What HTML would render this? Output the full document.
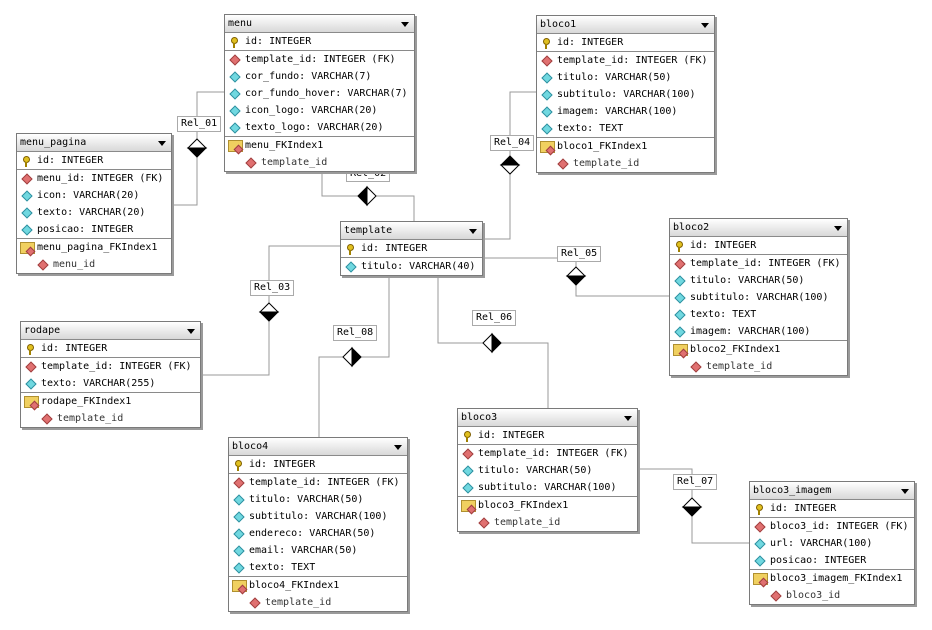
<!DOCTYPE html>
<html><head><meta charset="utf-8"><style>
body{margin:0;width:932px;height:630px;background:#fff;position:relative;overflow:hidden;font-family:"DejaVu Sans Mono","Liberation Mono",monospace}
svg{position:absolute;left:0;top:0}
.t{position:absolute;background:#fff;border:1px solid #7a7a7a;box-shadow:2px 2px 0 #9a9a9a;font-size:10px;color:#000}
.h{height:17px;line-height:17px;background:linear-gradient(#ffffff,#d8d8d8);border-bottom:1px solid #8a8a8a;padding-left:3px;position:relative}
.h:after{content:"";position:absolute;right:5px;top:7px;border-left:4px solid transparent;border-right:4px solid transparent;border-top:5px solid #000}
.r{height:17px;line-height:17px;padding-left:20px;position:relative;white-space:nowrap}
.s{border-top:1px solid #8a8a8a}
.r.i2{padding-left:36px;color:#333}
.k:before{content:"";position:absolute;left:6px;top:4px;width:5px;height:5px;border-radius:50%;background:#e0c020;border:1px solid #806000}
.k:after{content:"";position:absolute;left:8px;top:10px;width:2px;height:5px;background:#a08000}
.f:before,.a:before,.i2:before{content:"";position:absolute;left:6px;top:5px;width:6px;height:6px;transform:rotate(45deg);background:#e07070;border:1px solid #a04040}
.a:before{background:#70d8e0;border-color:#3090a0}
.i2:before{left:22px}
.x:before{content:"";position:absolute;left:3px;top:3px;width:13px;height:10px;background:#f0d060;border:1px solid #b09030}
.x:after{content:"";position:absolute;left:10px;top:9px;width:5px;height:5px;transform:rotate(45deg);background:#e07070;border:1px solid #a04040}
.l{position:absolute;background:#fff;border:1px solid #aaa;font-size:10px;height:14px;line-height:14px;padding:0 3px}
</style></head><body>
<svg width="932" height="630">
<g stroke="#999" fill="none" stroke-width="1">
<polyline points="224,92 197,92 197,205 170,205"/>
<polyline points="322,170 322,196 414,196 414,221"/>
<polyline points="340,246 269,246 269,375 199,375"/>
<polyline points="481,239 510,239 510,92 536,92"/>
<polyline points="481,258 576,258 576,296 669,296"/>
<polyline points="438,274 438,343 548,343 548,408"/>
<polyline points="636,469 692,469 692,543 749,543"/>
<polyline points="389,274 389,357 319,357 319,437"/>
</g>
<g stroke="#000" stroke-width="1">
<polygon points="197,139 206,148 188,148" fill="#fff"/><polygon points="188,148 206,148 197,157" fill="#000"/>
<polygon points="269,303 278,312 260,312" fill="#fff"/><polygon points="260,312 278,312 269,321" fill="#000"/>
<polygon points="576,267 585,276 567,276" fill="#fff"/><polygon points="567,276 585,276 576,285" fill="#000"/>
<polygon points="692,498 701,507 683,507" fill="#fff"/><polygon points="683,507 701,507 692,516" fill="#000"/>
<polygon points="510,156 519,165 501,165" fill="#000"/><polygon points="501,165 519,165 510,174" fill="#fff"/>
<polygon points="358,196 367,187 367,205" fill="#000"/><polygon points="367,187 376,196 367,205" fill="#fff"/>
<polygon points="343,357 352,348 352,366" fill="#fff"/><polygon points="352,348 361,357 352,366" fill="#000"/>
<polygon points="483,343 492,334 492,352" fill="#fff"/><polygon points="492,334 501,343 492,352" fill="#000"/>
</g>
</svg>
<div class="l" style="left:346px;top:166px">Rel_02</div>
<div class="l" style="left:177px;top:116px">Rel_01</div>
<div class="l" style="left:250px;top:280px">Rel_03</div>
<div class="l" style="left:490px;top:135px">Rel_04</div>
<div class="l" style="left:557px;top:246px">Rel_05</div>
<div class="l" style="left:472px;top:310px">Rel_06</div>
<div class="l" style="left:673px;top:474px">Rel_07</div>
<div class="l" style="left:333px;top:325px">Rel_08</div>

<div class="t" style="left:224px;top:14px;width:189px">
<div class="h">menu</div><div class="r k">id: INTEGER</div>
<div class="r f s">template_id: INTEGER (FK)</div><div class="r a">cor_fundo: VARCHAR(7)</div><div class="r a">cor_fundo_hover: VARCHAR(7)</div><div class="r a">icon_logo: VARCHAR(20)</div><div class="r a">texto_logo: VARCHAR(20)</div>
<div class="r x s">menu_FKIndex1</div><div class="r i2">template_id</div></div>

<div class="t" style="left:16px;top:133px;width:154px">
<div class="h">menu_pagina</div><div class="r k">id: INTEGER</div>
<div class="r f s">menu_id: INTEGER (FK)</div><div class="r a">icon: VARCHAR(20)</div><div class="r a">texto: VARCHAR(20)</div><div class="r a">posicao: INTEGER</div>
<div class="r x s">menu_pagina_FKIndex1</div><div class="r i2">menu_id</div></div>

<div class="t" style="left:536px;top:15px;width:177px">
<div class="h">bloco1</div><div class="r k">id: INTEGER</div>
<div class="r f s">template_id: INTEGER (FK)</div><div class="r a">titulo: VARCHAR(50)</div><div class="r a">subtitulo: VARCHAR(100)</div><div class="r a">imagem: VARCHAR(100)</div><div class="r a">texto: TEXT</div>
<div class="r x s">bloco1_FKIndex1</div><div class="r i2">template_id</div></div>

<div class="t" style="left:340px;top:221px;width:141px">
<div class="h">template</div><div class="r k">id: INTEGER</div>
<div class="r a s">titulo: VARCHAR(40)</div></div>

<div class="t" style="left:669px;top:218px;width:177px">
<div class="h">bloco2</div><div class="r k">id: INTEGER</div>
<div class="r f s">template_id: INTEGER (FK)</div><div class="r a">titulo: VARCHAR(50)</div><div class="r a">subtitulo: VARCHAR(100)</div><div class="r a">texto: TEXT</div><div class="r a">imagem: VARCHAR(100)</div>
<div class="r x s">bloco2_FKIndex1</div><div class="r i2">template_id</div></div>

<div class="t" style="left:20px;top:321px;width:179px">
<div class="h">rodape</div><div class="r k">id: INTEGER</div>
<div class="r f s">template_id: INTEGER (FK)</div><div class="r a">texto: VARCHAR(255)</div>
<div class="r x s">rodape_FKIndex1</div><div class="r i2">template_id</div></div>

<div class="t" style="left:228px;top:437px;width:178px">
<div class="h">bloco4</div><div class="r k">id: INTEGER</div>
<div class="r f s">template_id: INTEGER (FK)</div><div class="r a">titulo: VARCHAR(50)</div><div class="r a">subtitulo: VARCHAR(100)</div><div class="r a">endereco: VARCHAR(50)</div><div class="r a">email: VARCHAR(50)</div><div class="r a">texto: TEXT</div>
<div class="r x s">bloco4_FKIndex1</div><div class="r i2">template_id</div></div>

<div class="t" style="left:457px;top:408px;width:179px">
<div class="h">bloco3</div><div class="r k">id: INTEGER</div>
<div class="r f s">template_id: INTEGER (FK)</div><div class="r a">titulo: VARCHAR(50)</div><div class="r a">subtitulo: VARCHAR(100)</div>
<div class="r x s">bloco3_FKIndex1</div><div class="r i2">template_id</div></div>

<div class="t" style="left:749px;top:481px;width:164px">
<div class="h">bloco3_imagem</div><div class="r k">id: INTEGER</div>
<div class="r f s">bloco3_id: INTEGER (FK)</div><div class="r a">url: VARCHAR(100)</div><div class="r a">posicao: INTEGER</div>
<div class="r x s">bloco3_imagem_FKIndex1</div><div class="r i2">bloco3_id</div></div>
</body></html>
